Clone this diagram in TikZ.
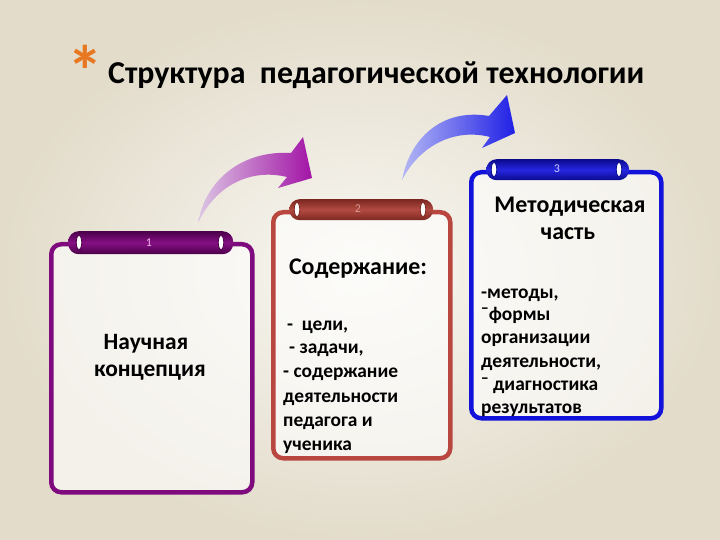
\documentclass[tikz,border=0pt]{standalone}
\usepackage{fontspec}
\setmainfont{Carlito}
\usetikzlibrary{shapes.geometric}
\definecolor{bgC}{HTML}{F8F7F2}
\definecolor{bgE}{HTML}{E3DCCB}
\definecolor{pFrame}{HTML}{7E0A7E}
\definecolor{rFrame}{HTML}{B9473F}
\definecolor{bFrame}{HTML}{1212DA}
\definecolor{pTabD}{HTML}{4A0049}
\definecolor{pTabM}{HTML}{860F84}
\definecolor{rTabD}{HTML}{7A2720}
\definecolor{rTabM}{HTML}{B34A41}
\definecolor{bTabD}{HTML}{0A0A8C}
\definecolor{bTabM}{HTML}{2626E2}
\definecolor{astC}{HTML}{E87722}
\definecolor{pArrL}{HTML}{DCC6E4}
\definecolor{pArrD}{HTML}{A214A6}
\definecolor{bArrL}{HTML}{B4B8F4}
\definecolor{bArrD}{HTML}{2020E6}
\definecolor{num1}{HTML}{F5B8F0}
\definecolor{num2}{HTML}{D49A92}
\definecolor{num3}{HTML}{CCCCFF}
\tikzset{
  frame/.style={draw, line width=4.5bp, rounded corners=10bp, fill=white, fill opacity=0.6, inner sep=0pt, anchor=north west},
  tab/.style={rectangle, rounded corners=10.5bp, inner sep=0pt, anchor=north west},
  hole/.style={ellipse, fill=white, draw=#1, line width=0.8bp, minimum width=5.5bp, minimum height=14bp, inner sep=0pt},
  tabnum/.style={font=\fontsize{12}{14}\selectfont, inner sep=0pt, anchor=center},
  head/.style={font=\fontsize{24}{28}\selectfont\bfseries, inner sep=0pt, anchor=base},
  item/.style={font=\fontsize{19.5}{23}\selectfont\bfseries, inner sep=0pt, anchor=base west},
}
\begin{document}
\begin{tikzpicture}[x=1bp, y=-1bp]
\useasboundingbox (0,0) rectangle (720,540);
\shade[inner color=bgC, outer color=bgE] (0,0) rectangle (720,540);

% title
\node[text=astC, font=\fontsize{72}{76}\selectfont\bfseries, inner sep=0pt, anchor=center] (ast) at (85,71) {*};
\node[font=\fontsize{32}{36}\selectfont\bfseries, inner sep=0pt, anchor=base west] (title) at (108,84) {Структура\ \ педагогической технологии};

% arrows
\shade[left color=pArrL, right color=pArrD]
  (198,223) .. controls (205,182) and (240,150) .. (291,153)
  -- (303,137) -- (312,178) -- (278,188) -- (287,177)
  .. controls (250,168) and (215,186) .. (198,223) -- cycle;
\shade[left color=bArrL, right color=bArrD]
  (402,180) .. controls (410,138) and (442,108) .. (489,116)
  -- (507,95) -- (515,133) -- (482,148) -- (490,137)
  .. controls (455,128) and (420,145) .. (402,180) -- cycle;

% frames
\node[frame, draw=pFrame, minimum width=201bp, minimum height=248bp] (box1) at (49,242) {};
\node[frame, draw=rFrame, minimum width=177bp, minimum height=246bp] (box2) at (271,210) {};
\node[frame, draw=bFrame, minimum width=190bp, minimum height=246bp] (box3) at (469,170) {};

% tabs
\node[tab, top color=pTabD, bottom color=pTabD, middle color=pTabM, minimum width=165bp, minimum height=23bp] (tab1) at (68,231) {};
\node[tab, top color=rTabD, bottom color=rTabD, middle color=rTabM, minimum width=144bp, minimum height=21bp] (tab2) at (289,199) {};
\node[tab, top color=bTabD, bottom color=bTabD, middle color=bTabM, minimum width=143bp, minimum height=21bp] (tab3) at (486,159) {};

\node[hole=pTabD] (h1a) at (79,242.5) {};
\node[hole=pTabD] (h1b) at (221,242.5) {};
\node[hole=rTabD] (h2a) at (297,209.5) {};
\node[hole=rTabD] (h2b) at (423,209.5) {};
\node[hole=bTabD] (h3a) at (494,169.5) {};
\node[hole=bTabD] (h3b) at (619,169.5) {};

\node[tabnum, text=num1] (n1) at (149,243) {1};
\node[tabnum, text=num2] (n2) at (358,209) {2};
\node[tabnum, text=num3] (n3) at (557,169) {3};

% box 1
\node[head, font=\fontsize{23.5}{28}\selectfont\bfseries] (t1a) at (146,349) {Научная};
\node[head, font=\fontsize{23.5}{28}\selectfont\bfseries] (t1b) at (150,376) {концепция};

% box 2
\node[head] (t2) at (358,275) {Содержание:};
\node[item] (t2a) at (287,330) {-\ \ цели,};
\node[item] (t2b) at (289,353) {- задачи,};
\node[item] (t2c) at (283,377) {- содержание};
\node[item] (t2d) at (283,402) {деятельности};
\node[item] (t2e) at (283,426) {педагога и};
\node[item] (t2f) at (283,450) {ученика};

% box 3
\node[head] (t3a) at (570,213) {Методическая};
\node[head] (t3b) at (568,240) {часть};
\node[item] (t3c) at (481,298) {-методы,};
\node[item] (t3d) at (481,320) {¯формы};
\node[item] (t3e) at (481,343) {организации};
\node[item] (t3f) at (481,367) {деятельности,};
\node[item] (t3g) at (481,390) {¯ диагностика};
\node[item] (t3h) at (481,413) {результатов};
\end{tikzpicture}
\end{document}
